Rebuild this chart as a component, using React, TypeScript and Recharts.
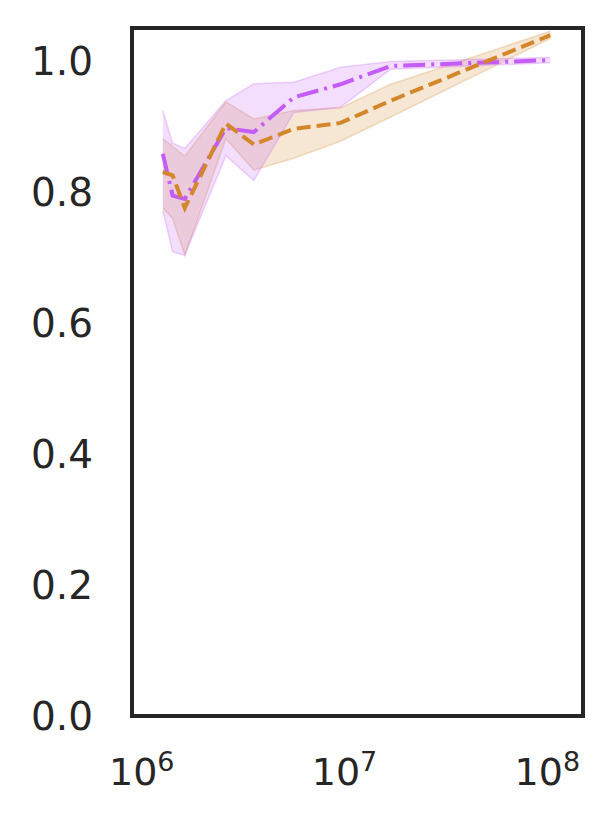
import { Area, ComposedChart, Line, ReferenceArea, XAxis, YAxis } from "recharts";

// dataset sizes (x, log scale)
const sizes = [1.27e6, 1.42e6, 1.63e6, 2.6e6, 3.57e6, 5.62e6, 9.55e6, 1.69e7, 1.035e8];

const orangeMean = [0.831, 0.826, 0.776, 0.905, 0.873, 0.897, 0.906, 0.94, 1.04];
const orangeLow = [0.776, 0.76, 0.704, 0.882, 0.834, 0.852, 0.878, 0.915, 1.035];
const orangeHigh = [0.882, 0.87, 0.855, 0.938, 0.912, 0.925, 0.929, 0.965, 1.046];

const purpleMean = [0.859, 0.795, 0.79, 0.898, 0.892, 0.945, 0.965, 0.993, 1.002];
const purpleLow = [0.772, 0.709, 0.704, 0.856, 0.818, 0.922, 0.93, 0.988, 0.998];
const purpleHigh = [0.925, 0.875, 0.867, 0.94, 0.966, 0.968, 0.991, 1.0, 1.006];

const xTicks = [1e6, 1e7, 1e8];
const yTicks = [0, 0.2, 0.4, 0.6, 0.8, 1.0];

const X_DOMAIN: [number, number] = [8.95e5, 1.5e8];
const Y_DOMAIN: [number, number] = [0, 1.051];

const ORANGE = "#d4862b";
const PURPLE = "#c45cf7";
const AXIS = "#262626";
const FONT = "DejaVu Sans, sans-serif";

const data = sizes.map((size, i) => ({
  size,
  orange: orangeMean[i],
  orangeBand: [orangeLow[i], orangeHigh[i]],
  purple: purpleMean[i],
  purpleBand: [purpleLow[i], purpleHigh[i]],
}));

const PowerTick = ({ x, y, payload }: any) => {
  const exp = Math.round(Math.log10(payload.value));
  return (
    <text
      x={x}
      y={y + 69}
      textAnchor="middle"
      fill={AXIS}
      fontFamily={FONT}
      fontSize={38}
    >
      10
      <tspan dy={-14} fontSize={27}>
        {exp}
      </tspan>
    </text>
  );
};

export default function App() {
  return (
    <div style={{ width: 590, height: 815, background: "#fff" }}>
      <ComposedChart
        width={590}
        height={815}
        data={data}
        margin={{ top: 20, right: 15, bottom: 47, left: 0 }}
      >
        <XAxis
          dataKey="size"
          type="number"
          scale="log"
          domain={X_DOMAIN}
          ticks={xTicks}
          allowDataOverflow
          height={60}
          tickLine={false}
          tickSize={0}
          tickMargin={0}
          axisLine={false}
          tick={<PowerTick />}
        />
        <YAxis
          type="number"
          domain={Y_DOMAIN}
          ticks={yTicks}
          allowDataOverflow
          width={124}
          tickLine={false}
          tickSize={0}
          tickMargin={39}
          axisLine={false}
          tickFormatter={(v: number) => v.toFixed(1)}
          tick={{ fill: AXIS, fontSize: 39, fontFamily: FONT }}
        />
        <Area
          dataKey="orangeBand"
          type="linear"
          fill={ORANGE}
          fillOpacity={0.2}
          stroke={ORANGE}
          strokeOpacity={0.25}
          strokeWidth={1.5}
          isAnimationActive={false}
        />
        <Area
          dataKey="purpleBand"
          type="linear"
          fill={PURPLE}
          fillOpacity={0.2}
          stroke={PURPLE}
          strokeOpacity={0.25}
          strokeWidth={1.5}
          isAnimationActive={false}
        />
        <Line
          dataKey="purple"
          type="linear"
          stroke={PURPLE}
          strokeWidth={4}
          strokeDasharray="22 6 3 6"
          dot={false}
          isAnimationActive={false}
        />
        <Line
          dataKey="orange"
          type="linear"
          stroke={ORANGE}
          strokeWidth={4}
          strokeDasharray="14 6"
          dot={false}
          isAnimationActive={false}
        />
        <ReferenceArea
          x1={X_DOMAIN[0]}
          x2={X_DOMAIN[1]}
          y1={Y_DOMAIN[0]}
          y2={Y_DOMAIN[1]}
          fill="none"
          stroke={AXIS}
          strokeWidth={4}
          ifOverflow="visible"
        />
      </ComposedChart>
    </div>
  );
}
